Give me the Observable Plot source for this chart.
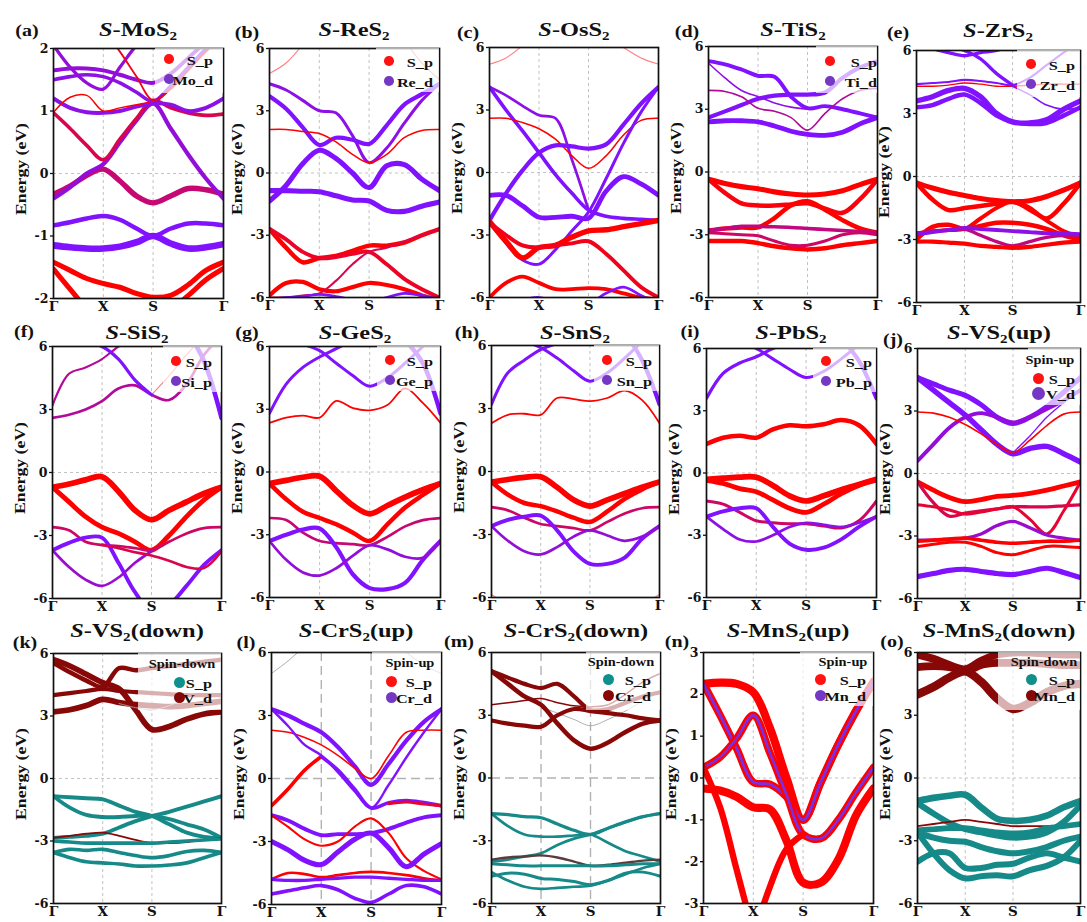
<!DOCTYPE html>
<html><head><meta charset="utf-8">
<script src="https://cdn.jsdelivr.net/npm/d3@7"></script>
<script src="https://cdn.jsdelivr.net/npm/@observablehq/plot@0.6"></script>
<style>
body{margin:0;background:#fff;}
#fig{position:relative;width:1087px;height:922px;overflow:hidden;background:#fff;font-family:"Liberation Serif","Times New Roman",serif;font-weight:bold;color:#111;}
.t{position:absolute;white-space:nowrap;line-height:1;}
.sub{font-size:0.62em;position:relative;top:0.32em;}
.box{position:absolute;background:rgba(255,255,255,0.68);}
.dot{position:absolute;border-radius:50%;}
.pnl{position:absolute;}
</style></head><body><div id="fig"></div><script>
// ---------- k-path (Γ–X–S–Γ) ----------
const kPoints = [0, 0.333, 0.667, 1, 1.333, 1.667, 2, 2.354, 2.707, 3.061, 3.414];
const kTicks = [0, 1, 2, 3.414];
const kLabels = ["Γ", "X", "S", "Γ"];
const ticks2 = [-2, -1, 0, 1, 2];
const ticks3 = [-3, -2, -1, 0, 1, 2, 3];
const ticks6 = [-6, -3, 0, 3, 6];

// ---------- titles / legends ----------
const letters = ["a","b","c","d","e","f","g","h","i","j","k","l","m","n","o"];
const compounds = ["MoS","ReS","OsS","TiS","ZrS","SiS","GeS","SnS","PbS","VS","VS","CrS","CrS","MnS","MnS"];
const suffixes = ["","","","","","","","","","(up)","(down)","(up)","(down)","(up)","(down)"];
const orbitals = ["Mo_d","Re_d",null,"Ti_d","Zr_d","Si_p","Ge_p","Sn_p","Pb_p","V_d","V_d","Cr_d","Cr_d","Mn_d","Mn_d"];
const spins = [null,null,null,null,null,null,null,null,null,"Spin-up","Spin-down","Spin-up","Spin-down","Spin-up","Spin-down"];

// ---------- band energies (eV) at kPoints; mix = metal fraction; wt = projection weight ----------
const bandsA = [
 [-1.42,-1.55,-1.68,-1.76,-1.82,-1.92,-1.98,-1.95,-1.78,-1.55,-1.42],
 [-1.53,-1.85,-2.15,-2.3,-2.3,-2.2,-2.05,-2.15,-1.95,-1.7,-1.52],
 [-1.15,-1.18,-1.2,-1.2,-1.17,-1.1,-1.0,-1.12,-1.2,-1.18,-1.13],
 [-0.83,-0.78,-0.72,-0.68,-0.74,-0.88,-1.0,-0.88,-0.8,-0.8,-0.83],
 [-0.33,-0.2,-0.03,0.07,-0.12,-0.36,-0.47,-0.36,-0.24,-0.26,-0.33],
 [-0.4,-0.22,0.0,0.15,0.5,0.85,1.12,0.72,0.3,-0.08,-0.4],
 [0.97,0.72,0.45,0.22,0.55,0.88,1.17,1.05,0.97,0.93,0.95],
 [1.2,1.05,0.98,0.97,1.0,1.07,1.12,1.1,1.0,1.05,1.2],
 [0.98,1.22,1.25,1.0,1.05,1.1,1.15,null,null,null,null],
 [1.65,1.68,1.68,1.65,1.58,1.5,1.45,1.6,1.85,2.1,2.3],
 [1.5,1.55,1.58,1.55,1.45,1.3,1.15,1.4,1.7,2.0,2.3],
 [2.05,1.7,1.45,1.35,1.7,2.05,2.3,null,null,null,null],
 [null,null,null,2.3,1.95,1.55,1.17,1.35,1.65,1.95,2.2]
];
const mixA = [0,0,1,1,0.45,0.85,0.3,0.9,0,0.85,0.9,0.85,0.1];
const wtA = [0.7,0.7,0.95,0.6,0.75,0.55,0.45,0.5,0.1,0.5,0.45,0.4,0.15];

const bandsB = [
 [4.8,5.3,6.2,null,null,null,null,null,null,null,null],
 [4.3,4.0,3.5,3.0,2.9,1.8,0.5,1.2,2.4,3.5,4.3],
 [3.7,3.1,2.2,1.35,1.7,1.6,1.4,2.3,3.3,3.8,4.3],
 [2.1,2.1,2.0,1.9,1.5,0.9,0.5,0.9,1.7,2.05,2.1],
 [-1.35,-0.6,0.45,1.1,0.7,0.0,-0.7,0.35,0.4,-0.3,-0.85],
 [-0.85,-0.85,-0.88,-0.9,-1.1,-1.3,-1.35,-1.8,-1.85,-1.6,-1.4],
 [-2.7,-3.6,-4.3,-4.1,-4.0,-3.75,-3.5,-3.5,-3.35,-3.0,-2.7],
 [-2.7,-3.2,-3.8,-4.1,-4.05,-3.9,-3.8,-4.4,-5.1,-5.6,-6.0],
 [-5.9,-5.3,-5.25,-5.6,-5.7,-5.5,-5.3,-5.4,-5.6,-5.9,-6.1],
 [-6.0,-6.0,-5.9,-5.8,-5.2,-4.4,-3.8,-3.6,-3.3,-3.0,-2.7],
 [-6.1,-6.0,-5.95,-5.85,-5.95,-6.1,-6.2,-6.0,-5.8,-5.9,-6.1],
 [null,null,null,null,null,null,null,null,6.4,5.3,4.5]
];
const mixB = [0,0.9,1,0,1,1,0,0.15,0,0.3,1,0];
const wtB = [0.03,0.35,0.55,0.1,0.7,0.7,0.6,0.5,0.55,0.2,0.3,0.03];

const bandsC = [
 [5.2,5.5,6.1,null,null,null,null,null,null,null,null],
 [null,null,null,null,null,null,null,6.6,6.0,5.5,5.2],
 [4.1,3.7,3.2,2.75,2.6,0.6,-1.8,null,null,null,null],
 [4.1,3.0,2.0,0.95,-0.1,-1.0,-1.8,-2.1,-2.2,-2.25,-2.3],
 [2.6,2.6,2.4,2.1,1.6,0.8,0.2,0.8,1.8,2.5,2.6],
 [-2.3,-1.0,0.1,0.95,1.3,1.25,1.15,1.35,2.3,3.3,4.1],
 [-1.1,-1.1,-1.6,-2.15,-2.15,-2.1,-2.2,-0.9,-0.2,-0.55,-1.1],
 [-2.3,-3.4,-4.2,-4.4,-3.7,-2.8,-1.9,-0.3,1.4,2.9,4.1],
 [-2.35,-3.3,-4.1,-3.6,-3.5,-3.1,-2.8,-2.75,-2.6,-2.45,-2.3],
 [-2.4,-3.0,-3.5,-3.6,-3.5,-3.4,-3.3,-3.9,-4.7,-5.5,-6.0],
 [-6.0,-5.3,-5.0,-5.3,-5.6,-5.6,-5.55,-5.6,-5.8,-6.0,-6.1],
 [-6.3,-6.2,-6.1,-6.0,-6.2,-6.3,-6.3,-5.8,-5.5,-5.9,-6.3]
];
const mixC = [0,0,0.9,1,0,1,1,1,0,0.1,0,1];
const wtC = [0.03,0.03,0.3,0.45,0.1,0.55,0.65,0.35,0.75,0.5,0.5,0.3];

const bandsD = [
 [5.3,5.15,4.9,4.6,4.55,3.6,3.05,3.15,3.0,2.8,2.6],
 [2.6,2.9,3.2,3.5,3.65,3.7,3.7,3.8,4.5,5.0,5.3],
 [2.4,2.45,2.45,2.4,2.2,1.95,1.8,1.75,1.9,2.3,2.6],
 [3.9,3.85,3.6,3.05,2.9,2.6,2.0,2.8,3.5,3.9,4.0],
 [5.2,4.5,3.9,3.6,3.3,3.1,3.0,null,null,null,null],
 [-0.35,-0.55,-0.7,-0.8,-0.95,-1.05,-1.1,-1.05,-0.9,-0.6,-0.35],
 [-0.35,-1.0,-1.5,-1.6,-1.6,-1.55,-1.5,-1.75,-1.95,-1.3,-0.35],
 [-2.8,-2.7,-2.65,-2.65,-2.2,-1.6,-1.4,-1.8,-2.3,-2.7,-2.9],
 [-3.3,-3.3,-3.3,-3.4,-3.55,-3.65,-3.7,-3.65,-3.5,-3.4,-3.3],
 [-2.8,-2.7,-2.6,-2.6,-2.62,-2.65,-2.7,-2.75,-2.8,-2.85,-2.9],
 [-2.9,-2.95,-3.0,-3.05,-3.3,-3.5,-3.5,-3.3,-3.0,-2.9,-3.0]
];
const mixD = [1,1,1,0.6,0.9,0,0.05,0,0,0.5,0.4];
const wtD = [0.5,0.55,0.65,0.12,0.12,0.7,0.6,0.6,0.6,0.45,0.35];

const bandsE = [
 [6.5,6.1,5.9,5.75,5.9,6.0,6.3,null,null,null,null],
 [null,null,6.2,6.0,5.6,4.9,4.35,null,null,null,null],
 [3.6,3.8,4.1,4.2,3.8,3.0,2.6,2.55,2.7,3.2,3.6],
 [3.3,3.4,3.7,3.9,3.5,2.9,2.6,2.5,2.55,2.9,3.3],
 [4.3,4.3,4.35,4.45,4.4,4.3,4.3,4.35,4.4,4.4,4.4],
 [4.4,4.45,4.5,4.6,4.55,4.45,4.35,4.7,5.3,5.9,6.4],
 [null,null,null,null,null,null,4.3,3.9,3.4,3.2,3.3],
 [-0.3,-0.55,-0.75,-0.9,-1.05,-1.15,-1.2,-1.15,-0.95,-0.65,-0.3],
 [-0.3,-1.1,-1.6,-1.5,-1.4,-1.3,-1.2,-1.5,-2.0,-1.3,-0.3],
 [-2.7,-2.6,-2.55,-2.5,-2.0,-1.5,-1.2,-1.6,-2.1,-2.6,-2.9],
 [-3.0,-2.4,-2.3,-2.5,-2.35,-2.2,-2.2,-2.3,-2.5,-2.8,-3.0],
 [-2.7,-2.6,-2.55,-2.5,-2.8,-3.1,-3.3,-3.1,-2.9,-2.8,-2.8],
 [-3.1,-3.1,-3.15,-3.2,-3.3,-3.35,-3.4,-3.35,-3.25,-3.15,-3.1],
 [-2.75,-2.65,-2.55,-2.45,-2.5,-2.55,-2.6,-2.65,-2.7,-2.7,-2.75]
];
const mixE = [1,1,1,1,0,1,1,0,0,0,0,0.5,0,0.9];
const wtE = [0.4,0.4,0.75,0.6,0.08,0.2,0.12,0.7,0.6,0.5,0.6,0.4,0.55,0.5];

const bandsF = [
 [3.2,4.7,5.0,5.4,6.0,6.4,null,null,null,null,null],
 [2.6,2.75,3.0,3.4,4.0,4.15,3.7,3.45,4.2,5.6,6.5],
 [null,null,null,null,null,null,null,null,6.8,5.3,2.6],
 [null,null,null,null,null,null,3.7,4.6,5.6,6.5,null],
 [null,null,6.2,6.0,5.4,4.4,3.7,null,null,null,null],
 [-0.7,-0.55,-0.35,-0.2,-0.9,-1.8,-2.25,-1.8,-1.4,-1.0,-0.7],
 [-0.7,-1.4,-2.1,-2.6,-2.9,-3.3,-3.7,-3.0,-2.1,-1.3,-0.7],
 [-2.6,-2.75,-3.3,-3.45,-3.5,-3.6,-3.7,-3.3,-2.9,-2.65,-2.6],
 [-3.7,-3.35,-3.1,-3.1,-4.3,-5.7,-6.6,-6.3,-5.4,-4.4,-3.7],
 [-3.7,-4.5,-5.1,-5.4,-5.0,-4.3,-3.75,null,null,null,null],
 [null,null,null,-3.45,-3.6,-3.8,-3.95,-4.2,-4.5,-4.55,-3.75]
];
const mixF = [0.6,0.6,1,0,1,0,0,0.4,1,0.8,0.3];
const wtF = [0.2,0.3,0.6,0.04,0.4,0.8,0.65,0.3,0.5,0.3,0.3];

const bandsG = [
 [2.8,4.2,5.0,5.5,5.9,6.3,null,null,null,null,null],
 [null,null,6.1,5.8,5.2,4.6,4.1,4.5,5.2,6.0,null],
 [null,null,null,null,null,null,null,null,6.3,5.2,2.8],
 [2.35,2.6,2.7,2.6,3.4,3.05,2.95,3.2,4.0,3.3,2.35],
 [-0.55,-0.4,-0.25,-0.2,-0.9,-1.6,-2.0,-1.6,-1.2,-0.85,-0.55],
 [-0.55,-1.3,-1.9,-2.2,-2.5,-2.9,-3.3,-2.5,-1.7,-1.1,-0.55],
 [-2.2,-2.3,-2.9,-3.3,-3.4,-3.45,-3.5,-3.1,-2.6,-2.3,-2.2],
 [-3.3,-3.0,-2.75,-2.7,-3.6,-4.9,-5.55,-5.6,-5.3,-4.2,-3.3],
 [-3.3,-4.2,-4.8,-4.95,-4.6,-4.0,-3.5,-3.7,-4.05,-4.1,-3.3]
];
const mixG = [1,1,1,0,0,0,0.45,1,0.85];
const wtG = [0.35,0.35,0.6,0.15,0.8,0.6,0.3,0.55,0.3];

const bandsH = [
 [3.2,4.7,5.3,5.8,6.1,6.4,null,null,null,null,null],
 [null,null,6.2,5.9,5.4,4.8,4.3,4.7,5.4,6.2,null],
 [null,null,null,null,null,null,null,null,6.6,5.3,3.2],
 [2.3,2.7,2.75,2.7,3.5,3.45,3.35,3.5,3.85,3.4,2.3],
 [-0.5,-0.38,-0.28,-0.25,-0.75,-1.35,-1.65,-1.35,-1.05,-0.75,-0.5],
 [-0.5,-1.1,-1.5,-1.65,-1.9,-2.2,-2.4,-1.9,-1.3,-0.85,-0.5],
 [-1.7,-1.85,-2.2,-2.5,-2.6,-2.7,-2.8,-2.4,-2.0,-1.75,-1.7],
 [-2.6,-2.3,-2.15,-2.1,-2.8,-3.8,-4.4,-4.4,-4.1,-3.2,-2.6],
 [-2.6,-3.3,-3.8,-3.95,-3.6,-3.1,-2.8,-3.05,-3.3,-3.1,-2.6],
 [-5.85,-6.4,null,null,null,null,null,null,null,null,null],
 [null,null,null,null,null,null,null,null,null,-6.4,-5.85]
];
const mixH = [1,1,1,0,0,0,0.4,1,0.85,0,0];
const wtH = [0.35,0.35,0.55,0.15,0.8,0.6,0.3,0.5,0.3,0.04,0.04];

const bandsI = [
 [3.6,4.8,5.3,5.6,6.0,6.3,null,null,null,null,null],
 [null,null,6.3,6.0,5.5,5.0,4.6,4.9,5.5,6.2,null],
 [null,null,null,null,null,null,null,null,6.5,5.4,3.6],
 [1.4,1.7,1.8,1.7,2.1,2.3,2.25,2.35,2.55,2.3,1.4],
 [-0.3,-0.25,-0.2,-0.2,-0.6,-1.1,-1.35,-1.1,-0.8,-0.55,-0.3],
 [-0.35,-0.5,-0.75,-0.9,-1.3,-1.7,-1.9,-1.5,-1.0,-0.6,-0.35],
 [-1.35,-1.5,-1.9,-2.3,-2.4,-2.45,-2.45,-2.55,-2.65,-2.3,-1.35],
 [-2.1,-1.85,-1.7,-1.7,-2.6,-3.4,-3.7,-3.6,-3.2,-2.6,-2.1],
 [-2.1,-2.7,-3.2,-3.3,-3.0,-2.6,-2.4,-2.5,-2.6,-2.4,-2.1]
];
const mixI = [1,1,1,0,0,0,0.4,1,0.9];
const wtI = [0.4,0.35,0.55,0.6,0.8,0.65,0.35,0.5,0.3];

const bandsJ = [
 [4.6,4.3,4.0,3.75,3.3,2.7,2.4,2.7,3.2,3.9,4.6],
 [4.6,4.0,3.4,2.8,2.1,1.4,0.95,1.2,1.3,0.95,0.55],
 [0.6,1.4,2.2,2.7,2.9,2.7,2.45,2.7,3.1,3.5,4.0],
 [2.95,2.9,2.7,2.35,1.9,1.4,1.0,1.6,2.3,2.85,2.95],
 [null,null,null,null,null,null,1.0,1.8,2.7,3.4,4.0],
 [-0.4,-0.8,-1.15,-1.35,-1.25,-1.1,-1.05,-0.95,-0.8,-0.6,-0.4],
 [-0.4,-1.4,-2.05,-1.9,-1.8,-1.7,-1.6,-1.6,-1.6,-1.55,-1.5],
 [-1.5,-1.6,-1.75,-1.95,-1.85,-1.7,-1.6,-2.2,-2.9,-1.8,-0.4],
 [-3.2,-3.2,-3.15,-3.1,-2.9,-2.5,-2.3,-2.6,-2.95,-3.1,-3.2],
 [-3.25,-3.2,-3.15,-3.1,-3.2,-3.3,-3.35,-3.3,-3.25,-3.25,-3.2],
 [-3.5,-3.4,-3.3,-3.3,-3.5,-3.8,-3.9,-3.7,-3.5,-3.5,-3.55],
 [-4.95,-4.8,-4.65,-4.6,-4.7,-4.8,-4.85,-4.7,-4.55,-4.75,-5.0]
];
const mixJ = [1,1,0.85,0,1,0,0.3,0.2,0.8,0,0,1];
const wtJ = [0.7,0.75,0.5,0.12,0.08,0.65,0.4,0.35,0.4,0.45,0.35,0.7];

const bandsK = [
 [5.7,5.4,5.0,4.6,4.3,3.3,2.35,2.5,2.85,3.1,3.2],
 [5.55,5.1,4.7,4.4,5.3,5.2,5.3,5.4,5.5,5.6,5.7],
 [4.0,4.1,4.2,4.3,4.2,4.15,4.1,4.05,4.0,4.0,4.0],
 [3.2,3.3,3.5,3.8,3.65,3.55,3.5,3.45,3.5,3.6,3.7],
 [null,null,null,null,3.6,3.4,3.3,3.5,3.9,null,null],
 [-0.85,-0.9,-0.95,-1.0,-1.3,-1.6,-1.8,-2.2,-2.6,-2.8,-2.85],
 [-0.85,-1.4,-1.75,-1.85,-1.85,-1.8,-1.8,-1.95,-2.2,-2.45,-2.85],
 [-2.85,-2.8,-2.75,-2.65,-2.35,-2.05,-1.8,-1.6,-1.35,-1.1,-0.85],
 [-2.85,-2.75,-2.65,-2.6,-2.75,-2.95,-3.1,-3.1,-3.05,-2.95,-2.85],
 [-3.0,-3.05,-3.1,-3.1,-3.1,-3.1,-3.1,-3.05,-3.0,-2.95,-2.9],
 [-3.55,-3.4,-3.45,-3.4,-3.55,-3.7,-3.8,-3.7,-3.5,-3.45,-3.55],
 [-3.55,-3.8,-4.0,-4.05,-4.1,-4.2,-4.2,-4.15,-4.05,-3.8,-3.55]
];
const mixK = [1,1,1,1,0,0,0,0,1,0,0,0];
const wtK = [0.8,0.6,0.55,0.8,0,0.5,0.5,0.5,0.15,0.45,0.45,0.45];

const bandsL = [
 [5.0,5.6,6.3,null,null,null,null,null,null,null,null],
 [null,null,null,null,null,null,null,6.6,6.0,5.4,5.0],
 [3.3,3.0,2.6,2.2,1.5,0.6,-0.3,0.7,1.8,2.7,3.3],
 [2.3,2.2,1.95,1.6,1.1,0.5,0.0,1.1,2.2,2.3,2.3],
 [3.3,2.5,1.6,1.1,0.3,-0.6,-1.4,-0.3,1.0,2.2,3.3],
 [-1.3,-0.5,0.4,1.05,null,null,null,null,null,null,null],
 [null,null,null,1.05,0.4,-0.5,-1.4,-1.15,-1.05,-1.15,-1.3],
 [null,null,null,null,null,null,null,-1.2,-1.12,-1.22,-1.3],
 [-1.75,-2.0,-2.4,-2.7,-2.65,-2.65,-2.6,-2.4,-2.1,-1.85,-1.75],
 [-1.75,-2.3,-2.9,-3.2,-3.0,-2.3,-1.9,-2.6,-3.8,-4.4,-4.8],
 [-3.0,-3.4,-3.9,-4.1,-3.5,-2.9,-2.6,-3.3,-4.2,-3.6,-3.1],
 [-4.8,-4.5,-4.55,-4.7,-4.6,-4.5,-4.45,-4.5,-4.6,-4.75,-4.85],
 [-4.8,-4.85,-4.85,-4.8,-4.75,-4.7,-4.7,-4.75,-4.8,-4.85,-4.85],
 [-5.5,-5.35,-5.2,-5.1,-5.3,-5.7,-5.9,-5.5,-5.1,-5.15,-5.5]
];
const mixL = [0,0,1,0,1,0,1,0.2,1,0,1,0,1,1];
const wtL = [0,0,0.55,0.12,0.25,0.45,0.45,0.35,0.5,0.2,0.7,0.3,0.4,0.45];

const bandsM = [
 [null,null,null,3.4,3.1,2.8,2.5,2.8,3.2,3.7,null],
 [5.1,4.8,4.5,4.3,4.5,3.9,3.25,3.3,3.6,3.9,4.1],
 [5.1,4.5,3.9,3.5,2.6,1.8,1.4,1.7,2.2,2.6,2.75],
 [2.75,2.6,2.5,2.45,3.0,3.3,3.2,3.1,3.0,2.85,2.75],
 [3.5,3.6,3.7,3.8,3.6,3.45,3.4,3.5,4.0,4.6,5.0],
 [-1.7,-1.75,-1.85,-1.9,-2.2,-2.5,-2.7,-2.4,-2.1,-1.85,-1.7],
 [-1.7,-2.3,-2.7,-2.8,-2.8,-2.75,-2.7,-3.1,-3.5,-3.75,-4.0],
 [-4.0,-3.9,-3.75,-3.6,-3.2,-2.9,-2.7,-2.4,-2.1,-1.85,-1.7],
 [-3.9,-3.8,-3.75,-3.7,-3.8,-4.0,-4.2,-4.15,-4.05,-3.95,-3.9],
 [-4.1,-4.15,-4.2,-4.2,-4.2,-4.2,-4.2,-4.2,-4.15,-4.1,-4.1],
 [-4.7,-4.55,-4.6,-4.8,-4.85,-4.95,-5.1,-4.9,-4.55,-4.5,-4.7],
 [-4.5,-4.9,-5.2,-5.3,-5.25,-5.2,-5.15,-4.9,-4.6,-4.3,-4.1]
];
const mixM = [0,1,1,1,1,0,0,0,0.6,0,0,0];
const wtM = [0,0.55,0.6,0.55,0.1,0.4,0.3,0.3,0.25,0.35,0.35,0.3];

const bandsN = [
 [2.25,2.28,2.25,2.05,1.2,0.0,-1.0,-0.1,0.8,1.6,2.3],
 [2.25,1.5,0.7,-0.1,-0.15,-0.45,-1.0,-0.1,0.8,1.6,2.3],
 [0.25,0.5,0.95,1.5,0.6,-0.4,-1.35,-1.45,-1.0,-0.35,0.25],
 [-0.25,-0.3,-0.45,-0.7,-0.75,-1.5,-2.5,-2.5,-1.95,-0.9,-0.25],
 [0.25,-0.7,-2.2,-3.7,null,null,null,null,null,null,null],
 [null,null,null,-3.8,-2.6,-1.7,-1.35,null,null,null,null]
];
const mixN = [0,0.6,0.5,0,0,0];
const wtN = [1.2,1.1,1.1,1.2,0.9,0.9];

const bandsO = [
 [5.9,5.7,5.4,5.2,5.6,5.9,6.0,6.0,5.95,5.9,5.9],
 [5.3,5.35,5.3,5.1,5.4,5.5,5.5,5.5,5.45,5.4,5.4],
 [4.0,4.35,4.8,5.1,4.6,3.8,3.3,3.6,4.1,4.4,4.5],
 [-1.1,-0.95,-0.85,-0.8,-1.4,-1.95,-2.05,-2.0,-1.8,-1.4,-1.1],
 [-1.2,-1.7,-2.15,-2.45,-2.6,-2.75,-2.85,-2.8,-2.6,-2.1,-1.3],
 [-2.3,-2.2,-2.1,-2.0,-2.1,-2.2,-2.3,-2.3,-2.3,-2.3,-2.3],
 [-2.5,-2.45,-2.4,-2.4,-2.5,-2.6,-2.65,-2.6,-2.4,-2.3,-2.2],
 [-2.6,-2.85,-3.0,-3.05,-3.3,-3.5,-3.6,-3.5,-3.3,-3.0,-2.8],
 [-4.0,-3.6,-3.6,-4.3,-4.3,-4.15,-4.1,-3.8,-3.6,-3.8,-4.0],
 [-2.6,-3.6,-4.4,-4.8,-4.7,-4.65,-4.7,-4.4,-4.2,-3.8,-3.0]
];
const mixO = [1,1,1,0,0,1,0,0,0,0];
const wtO = [1.15,1.15,1.25,0.95,0.85,0.15,0.8,0.85,0.85,0.85];

// ---------- layout (pixels) ----------
const frames = [
 [53,48,223,298],[269,48,439,297],[489,47,658,297],[708,46,877,297],[916,50,1080,302],
 [52,346,221,598],[269,346,440,597],[491,345,659,597],[706,348,876,597],[917,348,1080,598],
 [53,653,221,903],[271,652,441,904],[491,652,660,903],[703,652,873,903],[917,652,1080,903]
];
const titleY = [30,30,30,30,31, 333,333,333,333,333, 631,631,631,631,631];
const letterPos = [[27,31],[247,33],[468,33],[687,32],[898,33],[24,332],[247,333],[467,333],[690,332],[893,340],[25,643],[246,643],[459,642],[677,642],[892,642]];
const fadeBoxes = [[155,48,223,93],[376,48,439,92],null,[816,46,877,93],[1017,50,1080,97],[163,346,221,392],[377,346,440,391],[594,345,659,391],[813,348,876,392],[1028,348,1080,405],[138,653,221,710],[372,652,441,707],[586,652,660,710],[800,652,873,706],[998,652,1080,710]];
const legendPos = [[169,59,79,213],[389,61,81,433],null,[830,61,81,877],[1031,64,84,1075],[176,361,381,212],[390,360,380,433],[607,360,380,652],[826,361,381,872],[1038,378,393,1075],[179,682,697,212],[391,681,697,432],[608,679,695,651],[820,679,695,866],[1031,679,695,1075]];
const spinPos = [null,null,null,null,null,null,null,null,null,[1050,361],[182,665],[410,664],[621,663],[843,663],[1044,663]];

const specs = [
 {bands:bandsA,mix:mixA,wt:wtA,y:[-2,2],ticks:ticks2},
 {bands:bandsB,mix:mixB,wt:wtB,y:[-6,6],ticks:ticks6},
 {bands:bandsC,mix:mixC,wt:wtC,y:[-6,6],ticks:ticks6},
 {bands:bandsD,mix:mixD,wt:wtD,y:[-6,6],ticks:ticks6},
 {bands:bandsE,mix:mixE,wt:wtE,y:[-6,6],ticks:ticks6},
 {bands:bandsF,mix:mixF,wt:wtF,y:[-6,6],ticks:ticks6},
 {bands:bandsG,mix:mixG,wt:wtG,y:[-6,6],ticks:ticks6},
 {bands:bandsH,mix:mixH,wt:wtH,y:[-6,6],ticks:ticks6},
 {bands:bandsI,mix:mixI,wt:wtI,y:[-6,6],ticks:ticks6},
 {bands:bandsJ,mix:mixJ,wt:wtJ,y:[-6,6],ticks:ticks6},
 {bands:bandsK,mix:mixK,wt:wtK,y:[-6,6],ticks:ticks6},
 {bands:bandsL,mix:mixL,wt:wtL,y:[-6,6],ticks:ticks6},
 {bands:bandsM,mix:mixM,wt:wtM,y:[-6,6],ticks:ticks6},
 {bands:bandsN,mix:mixN,wt:wtN,y:[-3,3],ticks:ticks3},
 {bands:bandsO,mix:mixO,wt:wtO,y:[-6,6],ticks:ticks6}
];

const RED = "#ff0000", PURPLE = "#8012ff", TEAL = "#168a88", MAROON = "#880808", GRAY = "#a4a4a4";
const LEG = {red:"#ff1212", purple:"#7438c4", teal:"#10908a", maroon:"#870707"};

const fig = document.getElementById("fig");
function addText(html, x, y, size, anchor = "middle", rotate = 0, sx = 1.25) {
  const el = document.createElement("div");
  el.className = "t";
  el.innerHTML = html;
  el.style.left = x + "px";
  el.style.top = y + "px";
  el.style.fontSize = size + "px";
  const tx = anchor === "end" ? "-100%" : "-50%";
  el.style.transformOrigin = anchor === "end" ? "100% 50%" : "50% 50%";
  el.style.transform = `translate(${tx},-50%) rotate(${rotate}deg) scaleX(${sx})`;
  fig.appendChild(el);
}
function addDot(x, y, r, color) {
  const el = document.createElement("div");
  el.className = "dot";
  Object.assign(el.style, {left:(x-r)+"px", top:(y-r)+"px", width:(2*r)+"px", height:(2*r)+"px", background:color});
  fig.appendChild(el);
}

function drawPanel(i) {
  const [L, T, R, B] = frames[i];
  const ml = 30, mr = 8, mt = 4, mb = 22;
  const sp = specs[i];
  const down = spins[i] === "Spin-down";
  const c0 = down ? TEAL : RED, c1 = down ? MAROON : PURPLE;
  const longDash = (i === 11 || i === 12);
  const grid = longDash ? {stroke:"#b2b2b2", strokeWidth:1.4, strokeDasharray:"9,5"} : {stroke:"#c2c2c2", strokeWidth:1, strokeDasharray:"3,3"};
  const marks = [Plot.ruleX(kTicks.slice(1, 3), grid), Plot.ruleY([0], grid)];
  sp.bands.forEach((b, j) => {
    const rows = kPoints.map((k, n) => ({k, e: b[n]})).filter(d => d.e != null);
    const w = sp.wt[j], m = sp.mix[j];
    const common = {x:"k", y:"e", curve:"catmull-rom", clip:true, strokeLinecap:"round", strokeLinejoin:"round"};
    if (i === 13) {
      marks.push(Plot.line(rows, {...common, stroke: RED, strokeWidth: 0.9 + 6 * w}));
      if (m > 0) marks.push(Plot.line(rows, {...common, stroke: "#7a2ee6", strokeWidth: 1 + 3 * m}));
      return;
    }
    let stroke, sw;
    if (w === 0) { stroke = GRAY; sw = 0.9; }
    else {
      stroke = d3.interpolateRgb(c0, c1)(m);
      if (w < 0.05) stroke = d3.interpolateRgb(stroke, "#ffffff")(0.5);
      sw = 0.9 + 6 * w;
    }
    marks.push(Plot.line(rows, {...common, stroke, strokeWidth: sw}));
  });
  marks.push(Plot.frame({stroke:"#111", strokeWidth:1.7}));
  marks.push(Plot.axisY({ticks: sp.ticks, tickFormat: d => String(d), tickSize: 3, tickPadding: 2, fontSize: 12.5, label: null, strokeWidth: 1.3}));
  marks.push(Plot.axisX({ticks: kTicks, tickFormat: d => kLabels[kTicks.indexOf(d)], tickSize: 0, tickPadding: 3, fontSize: 13.5, label: null}));
  const svg = Plot.plot({
    width: R - L + ml + mr, height: B - T + mt + mb,
    marginLeft: ml, marginRight: mr, marginTop: mt, marginBottom: mb,
    x: {domain: [0, kTicks[3]], label: null},
    y: {domain: sp.y, label: null},
    style: {background:"transparent", overflow:"visible", fontFamily:"'DejaVu Serif', serif", fontWeight:"bold", fontSize:"12px", maxWidth:"none", color:"#111"},
    marks
  });
  const holder = document.createElement("div");
  holder.className = "pnl";
  holder.style.left = (L - ml) + "px";
  holder.style.top = (T - mt) + "px";
  holder.appendChild(svg);
  fig.appendChild(holder);

  const fb = fadeBoxes[i];
  if (fb) {
    const bx = document.createElement("div");
    bx.className = "box";
    Object.assign(bx.style, {left: fb[0]+"px", top: fb[1]+"px", width: (fb[2]-fb[0])+"px", height: (fb[3]-fb[1])+"px"});
    fig.appendChild(bx);
  }
  const lp = legendPos[i];
  if (lp) {
    const [dx, y1, y2, xr] = lp;
    const r = spins[i] ? 5.5 : 4.8;
    addDot(dx, y1, r, down ? LEG.teal : LEG.red);
    addDot(dx, y2, i === 9 ? 6.5 : r, down ? LEG.maroon : LEG.purple);
    addText("S_p", xr, y1 + 1, 13, "end");
    addText(orbitals[i], xr, y2 + 1, 13, "end");
    if (spins[i]) addText(spins[i], spinPos[i][0], spinPos[i][1], 11.5);
  }
  addText(`<i>S</i>-${compounds[i]}<span class="sub">2</span>${suffixes[i]}`, (L + R) / 2, titleY[i], 19.5);
  addText(`(${letters[i]})`, letterPos[i][0], letterPos[i][1], 16);
  addText("Energy (eV)", L - 32, (T + B) / 2 - 4, 14.5, "middle", -90, 1.22);
}

for (let i = 0; i < 15; i++) drawPanel(i);
</script></body></html>
